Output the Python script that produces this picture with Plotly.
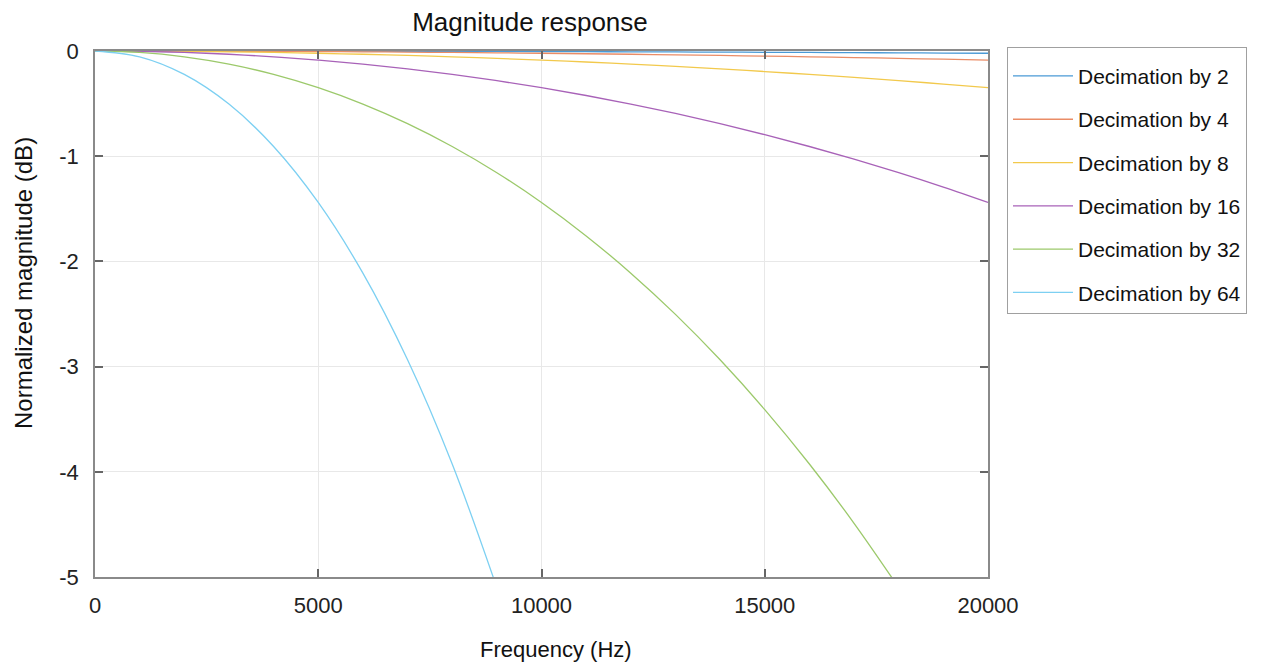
import plotly.graph_objects as go

# Frequency grid (Hz)
freq_hz = [0, 1000, 2000, 3000, 4000, 5000, 6000, 7000, 8000, 9000, 10000,
           11000, 12000, 13000, 14000, 15000, 16000, 17000, 18000, 19000, 20000]

# Normalized magnitude (dB)
dec2 = [0, -0.0001, -0.0002, -0.0005, -0.0009, -0.0014, -0.0019, -0.0026, -0.0035, -0.0044, -0.0054,
        -0.0065, -0.0078, -0.0091, -0.0106, -0.0122, -0.0138, -0.0156, -0.0175, -0.0195, -0.0216]
dec4 = [0, -0.0002, -0.0009, -0.0019, -0.0035, -0.0054, -0.0078, -0.0106, -0.0138, -0.0175, -0.0216,
        -0.0262, -0.0311, -0.0365, -0.0424, -0.0487, -0.0554, -0.0625, -0.0700, -0.0781, -0.0865]
dec8 = [0, -0.0009, -0.0035, -0.0078, -0.0138, -0.0216, -0.0311, -0.0423, -0.0553, -0.0700, -0.0865,
        -0.1047, -0.1247, -0.1464, -0.1700, -0.1953, -0.2223, -0.2512, -0.2819, -0.3144, -0.3488]
dec16 = [0, -0.0035, -0.0138, -0.0311, -0.0553, -0.0865, -0.1247, -0.1700, -0.2223, -0.2819, -0.3488,
         -0.4229, -0.5046, -0.5938, -0.6906, -0.7952, -0.9078, -1.0284, -1.1572, -1.2943, -1.4400]
dec32 = [0, -0.0138, -0.0553, -0.1247, -0.2223, -0.3488, -0.5046, -0.6906, -0.9078, -1.1572, -1.4400,
         -1.7576, -2.1116, -2.5036, -2.9353, -3.4088, -3.9260, -4.4893, -5.1010, None, None]
dec64 = [0, -0.0553, -0.2223, -0.5046, -0.9078, -1.4400, -2.1116, -2.9353, -3.9260, -5.1010, None,
         None, None, None, None, None, None, None, None, None, None]

series_names = ["Decimation by 2", "Decimation by 4", "Decimation by 8",
                "Decimation by 16", "Decimation by 32", "Decimation by 64"]
series_values = [dec2, dec4, dec8, dec16, dec32, dec64]
series_colors = ["#4A9AD6", "#EA8C66", "#F2C94C", "#A862B8", "#9CC96B", "#7DD0F2"]

x_ticks = [0, 5000, 10000, 15000, 20000]
x_ticklabels = ["0", "5000", "10000", "15000", "20000"]
y_ticks = [-5, -4, -3, -2, -1, 0]
y_ticklabels = ["-5", "-4", "-3", "-2", "-1", "0"]

FONT = "Liberation Sans, Arial, Helvetica, sans-serif"

# page body adds an 8px offset; plot area target: x 95..988, y 51..577
OFF = 8
PL, PR, PT, PB = 95, 988, 51, 577
W, H = 1262, 672
PW, PH = PR - PL, PB - PT

fig = go.Figure()
for name, vals, color in zip(series_names, series_values, series_colors):
    fig.add_trace(go.Scatter(
        x=freq_hz, y=vals, mode="lines", name=name, legendgroup=name,
        line=dict(color=color, width=1.3, shape="spline"),
        connectgaps=False,
    ))

axis_common = dict(
    showgrid=True, gridcolor="#e8e8e8", gridwidth=1,
    showline=True, linecolor="#8a8a8a", linewidth=1.5, mirror="ticks",
    ticks="inside", ticklen=8, tickcolor="#666666", tickwidth=1.5,
    zeroline=False, tickfont=dict(family=FONT, size=22, color="#222222"),
)

def px_x(px):
    return (px - PL) / PW

def px_y(py):
    return (PB - py) / PH

fig.update_layout(
    width=W, height=H,
    paper_bgcolor="white", plot_bgcolor="white",
    margin=dict(l=PL - OFF, r=W - PR + OFF, t=PT - OFF, b=H - PB + OFF),
    font=dict(family=FONT, color="#111111"),
    title=dict(text="Magnitude response", x=px_x(530), xref="paper", xanchor="center",
               y=1 - (22 - OFF) / H, yref="container", yanchor="middle",
               font=dict(family=FONT, size=26, color="#111111")),
    xaxis=dict(range=[0, 20000], tickvals=x_ticks, ticktext=x_ticklabels,
               ticklabelstandoff=8, **axis_common),
    yaxis=dict(range=[-5, 0], tickvals=y_ticks, ticktext=y_ticklabels,
               ticklabelstandoff=10, **axis_common),
    legend=dict(x=px_x(1007), y=1 + 4 / PH, xanchor="left", yanchor="top",
                bordercolor="#a0a0a0", borderwidth=1, bgcolor="white",
                font=dict(family=FONT, size=21, color="#111111"),
                title=dict(text=" ", font=dict(size=6)),
                itemwidth=60, traceorder="grouped", tracegroupgap=13),
    showlegend=True,
    annotations=[
        dict(text="Frequency (Hz)", xref="paper", yref="paper",
             x=px_x(556), y=px_y(649), xanchor="center", yanchor="middle",
             showarrow=False, font=dict(family=FONT, size=22, color="#111111")),
        dict(text="Normalized magnitude (dB)", xref="paper", yref="paper",
             x=px_x(23), y=px_y(283), xanchor="center", yanchor="middle",
             textangle=-90, showarrow=False,
             font=dict(family=FONT, size=24, color="#111111")),
    ],
)

fig.write_html("out.html")
